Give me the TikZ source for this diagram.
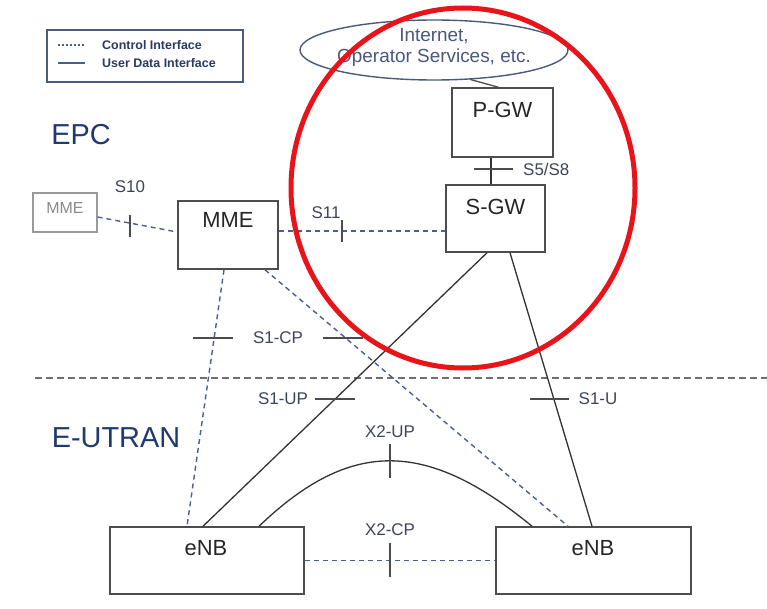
\documentclass[tikz,border=0pt]{standalone}
\usepackage{fontspec}
\setmainfont{Liberation Sans}
\usetikzlibrary{calc,shapes.geometric}
\definecolor{boxc}{HTML}{4D4D4D}
\definecolor{ctrlc}{HTML}{4A5F8F}
\definecolor{ellc}{HTML}{4A5A7A}
\definecolor{ellt}{HTML}{4A5780}
\definecolor{lblc}{HTML}{3E4556}
\definecolor{titc}{HTML}{1F3A6E}
\definecolor{legc}{HTML}{2B3A67}
\definecolor{sepc}{HTML}{707070}
\definecolor{redc}{HTML}{E8141A}
\definecolor{greyc}{HTML}{999999}
\begin{document}
\begin{tikzpicture}[x=1bp,y=-1bp,
  boxst/.style={draw=boxc,line width=1.5bp,inner sep=0pt},
  boxlbl/.style={text=black!85,font=\fontsize{22}{24}\selectfont,inner sep=0pt},
  lbl/.style={text=lblc,font=\fontsize{17}{19}\selectfont,inner sep=0pt},
  ctrl/.style={draw=ctrlc,line width=1.4bp,dash pattern=on 5bp off 4bp},
  user/.style={draw=black!80,line width=1.3bp},
  tickst/.style={draw=black!70,line width=1.2bp},
  title/.style={text=titc,font=\fontsize{29}{31}\selectfont,inner sep=0pt},
  legt/.style={text=legc,font=\fontsize{12.5}{14}\selectfont\bfseries,inner sep=0pt,anchor=west}]
\useasboundingbox (0,0) rectangle (767,609);
\fill[white] (0,0) rectangle (767,609);

% legend
\node[draw=ellc,line width=1.5bp,minimum width=196bp,minimum height=52bp,inner sep=0pt] (legend) at (145,56) {};
\coordinate (lga) at (58,45); \coordinate (lgb) at (85,45);
\coordinate (lgc) at (58,63); \coordinate (lgd) at (85,63);
\draw[draw=ctrlc,line width=1.3bp,dash pattern=on 2bp off 2bp] (lga) -- (lgb);
\draw[draw=ctrlc,line width=1.3bp] (lgc) -- (lgd);
\node[legt] (legctrl) at (102,45) {Control Interface};
\node[legt] (leguser) at (102,63) {User Data Interface};

% titles
\node[title] (epc) at (81,135) {EPC};
\node[title] (eutran) at (116,438) {E-UTRAN};

% separator
\coordinate (sepl) at (35,378); \coordinate (sepr) at (767,378);
\draw[draw=sepc,line width=2.4bp,dash pattern=on 7bp off 4bp] (sepl) -- (sepr);

% nodes
\node[ellipse,draw=ellc,line width=1.4bp,minimum width=268bp,minimum height=60bp,inner sep=0pt] (inet) at (434,50) {};
\node[text=ellt,font=\fontsize{19}{21}\selectfont,align=center,inner sep=0pt] (inett) at (434,47.5) {Internet,\\Operator Services, etc.};

\node[boxst,minimum width=101bp,minimum height=69bp] (pgw) at (502.5,122.5) {};
\node[boxlbl] (pgwt) at (502.5,110) {P-GW};

\node[boxst,minimum width=99bp,minimum height=67bp] (sgw) at (495.5,218.5) {};
\node[boxlbl] (sgwt) at (495.5,207) {S-GW};

\node[boxst,minimum width=100bp,minimum height=68bp] (mme) at (228,235) {};
\node[boxlbl] (mmet) at (228,220) {MME};

\node[draw=greyc,line width=1.2bp,inner sep=0pt,minimum width=64bp,minimum height=39bp] (mme2) at (65,212.5) {};
\node[text=greyc!90!black,font=\fontsize{16}{18}\selectfont,inner sep=0pt] (mme2t) at (65,208) {MME};

\node[boxst,minimum width=194bp,minimum height=67bp] (enb1) at (207,560.5) {};
\node[boxlbl] (enb1t) at (206,548) {eNB};

\node[boxst,minimum width=195bp,minimum height=67bp] (enb2) at (593.5,560.5) {};
\node[boxlbl] (enb2t) at (593,548) {eNB};

% ellipse -> P-GW
\draw[draw=boxc,line width=1.3bp] (inet.-39) -- ([xshift=-4bp]pgw.north);

% S5/S8
\coordinate (s5a) at ($(sgw.north)+(-4.5,0)$);
\draw[user] (s5a) -- (s5a |- pgw.south);
\draw[tickst] (474,169) -- (513,169);
\node[lbl,anchor=west] (s5l) at (523,169) {S5/S8};

% S10
\draw[ctrl] ($(mme2.east)+(0,4.5)$) -- ($(mme.west)+(0,-3)$);
\draw[tickst] (130,215) -- (130,237);
\node[lbl] (s10l) at (130,187) {S10};

% S11
\coordinate (s11a) at ($(mme.east)+(0,-4)$);
\draw[ctrl] (s11a) -- (s11a -| sgw.west);
\draw[tickst] (342,220) -- (342,242);
\node[lbl] (s11l) at (326,213) {S11};

% S1-MME (control)
\draw[ctrl] ([xshift=-4bp]mme.south) -- ([xshift=-20bp]enb1.north);
\draw[ctrl] ([xshift=37bp]mme.south) -- ([xshift=-25.5bp]enb2.north);
\draw[tickst] (193,338) -- (233,338);
\draw[tickst] (323,338) -- (363,338);
\node[lbl] (s1cp) at (278,338) {S1-CP};

% S1-U (user)
\draw[user] ([xshift=-8.5bp]sgw.south) -- ([xshift=-4bp]enb1.north);
\draw[user] ([xshift=14.5bp]sgw.south) -- ([xshift=-1.5bp]enb2.north);
\draw[tickst] (315,399) -- (355,399);
\node[lbl] (s1up) at (283,399) {S1-UP};
\draw[tickst] (530,399) -- (569,399);
\node[lbl] (s1u) at (598,399) {S1-U};

% X2-UP
\draw[user] ([xshift=52bp]enb1.north) .. controls (350,439) and (426,439) .. ([xshift=-61.5bp]enb2.north);
\draw[tickst] (390,444) -- (390,478);
\node[lbl] (x2up) at (390,432) {X2-UP};

% X2-CP
\draw[ctrl] (enb1.east) -- (enb2.west);
\draw[tickst] (390,543) -- (390,577);
\node[lbl] (x2cp) at (390,530) {X2-CP};

% red circle
\draw[draw=redc,line width=5bp] (463,188) ellipse [x radius=172, y radius=180];
\end{tikzpicture}
\end{document}
